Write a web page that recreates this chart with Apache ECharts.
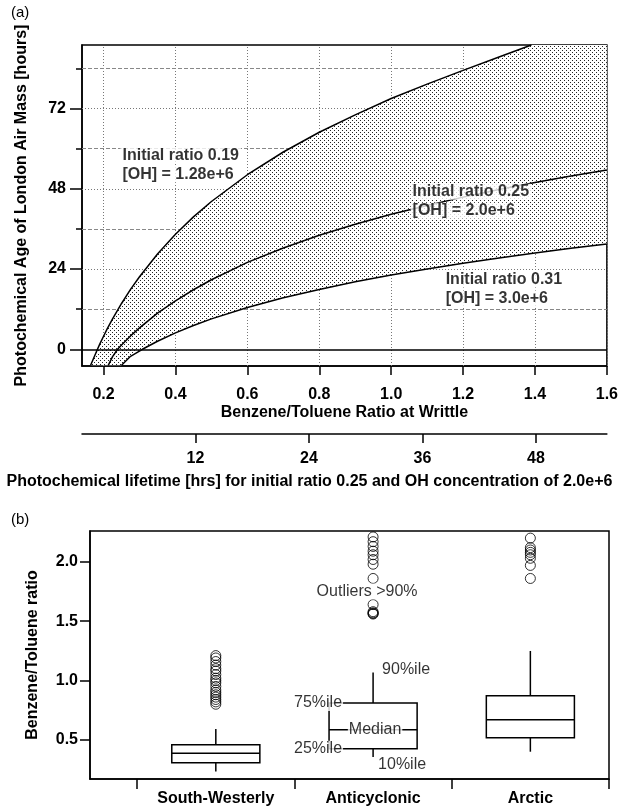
<!DOCTYPE html>
<html>
<head>
<meta charset="utf-8">
<script src="https://cdn.jsdelivr.net/npm/echarts@6/dist/echarts.min.js"></script>
<style>
html, body { margin: 0; padding: 0; background: #fff; }
#chart { width: 621px; height: 807px; }
</style>
</head>
<body>
<div id="chart"></div>
<script>
// (a) benzene/toluene ratio vs photochemical age
var ratioTicks = [0.2, 0.4, 0.6, 0.8, 1.0, 1.2, 1.4, 1.6];
var ageMajor = [0, 24, 48, 72];
var ageMinor = [12, 36, 60, 84];
var lifetimeTicks = [12, 24, 36, 48];

// initial ratio 0.19, [OH] = 1.28e+6
var x019 = [0.164, 0.175, 0.183, 0.19, 0.2, 0.21, 0.225, 0.25, 0.275, 0.3, 0.35, 0.4, 0.45, 0.5, 0.6, 0.7, 0.8, 0.9, 1.0, 1.1, 1.2, 1.3, 1.39];
var y019 = [-4.8, -2.0, 0, 1.7, 3.9, 6.1, 9.1, 13.7, 17.9, 21.7, 28.5, 34.4, 39.6, 44.2, 52.2, 59.0, 64.9, 70.1, 75.0, 79.3, 83.4, 87.4, 91.0];
// initial ratio 0.25, [OH] = 2.0e+6
var x025 = [0.213, 0.225, 0.239, 0.25, 0.275, 0.3, 0.35, 0.4, 0.45, 0.5, 0.6, 0.7, 0.8, 0.9, 1.0, 1.1, 1.2, 1.3, 1.4, 1.5, 1.6];
var y025 = [-4.8, -2.2, 0, 1.3, 4.0, 6.4, 10.8, 14.5, 17.8, 20.8, 26.0, 30.3, 34.1, 37.4, 40.4, 43.0, 45.5, 47.8, 49.9, 51.8, 53.6];
// initial ratio 0.31, [OH] = 3.0e+6
var x031 = [0.25, 0.275, 0.308, 0.35, 0.4, 0.45, 0.5, 0.6, 0.7, 0.8, 0.9, 1.0, 1.1, 1.2, 1.3, 1.4, 1.5, 1.6];
var y031 = [-4.8, -2.1, 0, 2.4, 4.9, 7.1, 9.1, 12.5, 15.4, 17.9, 20.2, 22.2, 24.0, 25.7, 27.3, 28.8, 30.2, 31.5];

// (b) box plots by synoptic regime: [10%, 25%, median, 75%, 90%]
var regimes = ['South-Westerly', 'Anticyclonic', 'Arctic'];
var boxSW = [0.234, 0.307, 0.388, 0.458, 0.592];
var boxAC = [0.355, 0.425, 0.586, 0.81, 1.067];
var boxAR = [0.40, 0.517, 0.67, 0.871, 1.249];
var outSW = [0.80, 0.82, 0.84, 0.86, 0.88, 0.90, 0.92, 0.95, 0.98, 1.00, 1.02, 1.05, 1.08, 1.10, 1.13, 1.16, 1.19, 1.21];
var outAC = [1.56, 1.565, 1.57, 1.58, 1.64, 1.86, 1.98, 2.02, 2.06, 2.09, 2.13, 2.17, 2.21];
var outAR = [1.86, 1.97, 2.03, 2.06, 2.08, 2.10, 2.12, 2.20];
var ratioTicksB = [0.5, 1.0, 1.5, 2.0];

var FONT = '"Liberation Sans", Arial, sans-serif';
var ageMin = -5, ageMax = 91, ratioMin = 0.14, ratioMax = 1.6;

function pairs(xs, ys) {
    var d = [];
    for (var i = 0; i < xs.length; i++) d.push([xs[i], ys[i]]);
    return d;
}

// stipple pattern for the band between the outer curves
var pat = document.createElement('canvas');
pat.width = 4; pat.height = 4;
var pctx = pat.getContext('2d');
pctx.fillStyle = '#fff';
pctx.fillRect(0, 0, 4, 4);
pctx.fillStyle = '#222';
pctx.fillRect(0, 0, 1, 1);
pctx.fillRect(2, 2, 1, 1);

function renderBand(params, api) {
    if (params.dataIndex !== 0) return;
    var pts = [];
    for (var i = 0; i < x019.length; i++) pts.push(api.coord([x019[i], y019[i]]));
    pts.push(api.coord([ratioMax, ageMax]));
    for (var j = x031.length - 1; j >= 0; j--) pts.push(api.coord([x031[j], y031[j]]));
    return {
        type: 'polygon',
        shape: { points: pts },
        style: { fill: { image: pat, repeat: 'repeat' }, stroke: null }
    };
}

var boxHalf = 0.28;
function renderBox(params, api) {
    var x = api.value(0);
    var lo = api.coord([x, api.value(1)]);
    var q1 = api.coord([x, api.value(2)]);
    var md = api.coord([x, api.value(3)]);
    var q3 = api.coord([x, api.value(4)]);
    var hi = api.coord([x, api.value(5)]);
    var w = api.size([boxHalf * 2, 0])[0];
    var st = { stroke: '#000', lineWidth: 1.5, fill: null };
    return {
        type: 'group',
        children: [
            { type: 'line', shape: { x1: hi[0], y1: hi[1], x2: q3[0], y2: q3[1] }, style: st },
            { type: 'line', shape: { x1: lo[0], y1: lo[1], x2: q1[0], y2: q1[1] }, style: st },
            { type: 'rect', shape: { x: q3[0] - w / 2, y: q3[1], width: w, height: q1[1] - q3[1] }, style: { stroke: '#000', lineWidth: 1.5, fill: '#fff' } },
            { type: 'line', shape: { x1: md[0] - w / 2, y1: md[1], x2: md[0] + w / 2, y2: md[1] }, style: st }
        ]
    };
}

var gridLines = [];
ratioTicks.forEach(function (v) {
    gridLines.push({ xAxis: v, lineStyle: { type: [1, 2], color: '#777', width: 1 } });
});
ageMajor.slice(1).forEach(function (v) {
    gridLines.push({ yAxis: v, lineStyle: { type: [1, 2], color: '#777', width: 1 } });
});
ageMinor.forEach(function (v) {
    gridLines.push({ yAxis: v, lineStyle: { type: [4, 2], color: '#888', width: 1 } });
});

var regimeCentres = regimes.map(function (r, i) { return i + 0.5; });
var regimeBounds = regimes.map(function (r, i) { return i; }).concat(regimes.length);

var boxData = [boxSW, boxAC, boxAR].map(function (b, i) { return [regimeCentres[i]].concat(b); });
var outData = [];
[outSW, outAC, outAR].forEach(function (arr, i) {
    arr.forEach(function (v) { outData.push([regimeCentres[i], v]); });
});

var noteStyle = { fontFamily: FONT, fontSize: 16, color: '#000', backgroundColor: '#fff', padding: [0, 1] };
function note(pos, text, align, offset) {
    return {
        value: pos,
        label: Object.assign({ show: true, position: 'inside', formatter: text, align: align, verticalAlign: 'middle', offset: offset }, noteStyle)
    };
}
var acX = regimeCentres[1];
var acNotes = [
    note([acX - boxHalf, boxAC[3]], '75%ile', 'right', [14, 0]),
    note([acX - boxHalf, boxAC[1]], '25%ile', 'right', [14, 0]),
    note([acX, boxAC[2]], 'Median', 'center', [2, 0]),
    note([acX, boxAC[4]], '90%ile', 'left', [8, -3]),
    note([acX, boxAC[0]], '10%ile', 'left', [4, 8]),
    note([acX, 1.75], 'Outliers >90%', 'center', [-6, 0])
];

function bandNote(pos, l1, l2) {
    return {
        value: pos,
        label: {
            show: true, position: 'inside', align: 'left', verticalAlign: 'middle',
            formatter: '{a|' + l1 + '}\n{a|' + l2 + '}',
            rich: { a: { fontFamily: FONT, fontSize: 16, fontWeight: 'bold', color: '#000', backgroundColor: '#fff', lineHeight: 19, padding: [0, 2] } }
        }
    };
}

var axisText = { fontFamily: FONT, fontSize: 16, fontWeight: 'bold', color: '#000' };
var blackLine = { color: '#000', width: 1.5 };

var option = {
    animation: false,
    backgroundColor: '#fff',
    title: [
        { text: '(a)', left: 6, top: 0, textStyle: { fontFamily: FONT, fontSize: 15, fontWeight: 'normal', color: '#000' } },
        { text: '(b)', left: 6, top: 507, textStyle: { fontFamily: FONT, fontSize: 15, fontWeight: 'normal', color: '#000' } }
    ],
    grid: [
        { left: 82, top: 45, width: 526, height: 321, show: true, borderColor: '#000', borderWidth: 1.5 },
        { left: 90, top: 531, width: 519, height: 249, show: true, borderColor: '#000', borderWidth: 1.5 }
    ],
    xAxis: [
        {
            gridIndex: 0, type: 'value', min: ratioMin, max: ratioMax, position: 'bottom',
            axisLine: { onZero: false, lineStyle: blackLine },
            axisTick: { customValues: ratioTicks, length: 9, lineStyle: blackLine },
            axisLabel: { customValues: ratioTicks, margin: 21, formatter: function (v) { return v.toFixed(1); }, fontFamily: FONT, fontSize: 16, fontWeight: 'bold', color: '#000' },
            splitLine: { show: false },
            name: 'Benzene/Toluene Ratio at Writtle', nameLocation: 'middle', nameGap: 39, nameTextStyle: axisText
        },
        {
            gridIndex: 0, type: 'value', position: 'bottom', offset: 68, min: 0, max: 55.5,
            axisLine: { onZero: false, lineStyle: blackLine },
            axisTick: { customValues: lifetimeTicks, length: 9, lineStyle: blackLine },
            axisLabel: { customValues: lifetimeTicks, margin: 17, fontFamily: FONT, fontSize: 16, fontWeight: 'bold', color: '#000' },
            splitLine: { show: false },
            name: 'Photochemical lifetime [hrs] for initial ratio 0.25 and OH concentration of 2.0e+6',
            nameLocation: 'middle', nameGap: 40,
            nameTextStyle: Object.assign({ padding: [0, 70, 0, 0] }, axisText)
        },
        {
            gridIndex: 1, type: 'value', min: -0.3, max: 3.0, position: 'bottom',
            axisLine: { onZero: false, lineStyle: blackLine },
            axisTick: { customValues: regimeBounds, length: 10, lineStyle: blackLine },
            axisLabel: { customValues: regimeCentres, margin: 12, formatter: function (v) { return regimes[Math.floor(v)]; }, fontFamily: FONT, fontSize: 16, fontWeight: 'bold', color: '#000' },
            splitLine: { show: false }
        }
    ],
    yAxis: [
        {
            gridIndex: 0, type: 'value', min: ageMin, max: ageMax, position: 'left',
            axisLine: { show: true, onZero: false, lineStyle: blackLine },
            axisTick: { customValues: ageMajor, length: 12, lineStyle: blackLine },
            axisLabel: { customValues: ageMajor, margin: 16, fontFamily: FONT, fontSize: 16, fontWeight: 'bold', color: '#000' },
            splitLine: { show: false },
            name: 'Photochemical Age of London Air Mass [hours]', nameLocation: 'middle', nameGap: 52, nameTextStyle: axisText
        },
        {
            gridIndex: 0, type: 'value', min: ageMin, max: ageMax, position: 'left',
            axisLine: { show: false, onZero: false },
            axisTick: { customValues: ageMinor, length: 6, lineStyle: blackLine },
            axisLabel: { show: false },
            splitLine: { show: false }
        },
        {
            gridIndex: 1, type: 'value', min: 0.17, max: 2.26, position: 'left',
            axisLine: { show: true, onZero: false, lineStyle: blackLine },
            axisTick: { customValues: ratioTicksB, length: 10, lineStyle: blackLine },
            axisLabel: { customValues: ratioTicksB, margin: 12, formatter: function (v) { return v.toFixed(1); }, fontFamily: FONT, fontSize: 16, fontWeight: 'bold', color: '#000' },
            splitLine: { show: false },
            name: 'Benzene/Toluene ratio', nameLocation: 'middle', nameGap: 49, nameTextStyle: axisText
        }
    ],
    series: [
        {
            type: 'custom', xAxisIndex: 0, yAxisIndex: 0, z: 3, clip: true,
            renderItem: renderBand,
            data: pairs(x019, y019),
            markLine: { silent: true, symbol: 'none', z: 1, label: { show: false }, data: gridLines }
        },
        {
            type: 'line', xAxisIndex: 0, yAxisIndex: 0, z: 4, symbol: 'none', clip: true,
            lineStyle: { color: '#000', width: 1.5 }, data: pairs(x019, y019),
            markLine: {
                silent: true, symbol: 'none', z: 6, label: { show: false },
                data: [{ yAxis: 0, lineStyle: { type: 'solid', color: '#000', width: 1.5 } }]
            }
        },
        {
            type: 'line', xAxisIndex: 0, yAxisIndex: 0, z: 4, symbol: 'none', clip: true,
            lineStyle: { color: '#000', width: 1.5 }, data: pairs(x025, y025)
        },
        {
            type: 'line', xAxisIndex: 0, yAxisIndex: 0, z: 4, symbol: 'none', clip: true,
            lineStyle: { color: '#000', width: 1.5 }, data: pairs(x031, y031)
        },
        {
            type: 'scatter', xAxisIndex: 0, yAxisIndex: 0, z: 7, symbolSize: 0,
            data: [
                bandNote([0.247, 55.2], 'Initial ratio 0.19', '[OH] = 1.28e+6'),
                bandNote([1.054, 44.3], 'Initial ratio 0.25', '[OH] = 2.0e+6'),
                bandNote([1.146, 18.0], 'Initial ratio 0.31', '[OH] = 3.0e+6')
            ]
        },
        {
            type: 'custom', xAxisIndex: 2, yAxisIndex: 2, z: 3,
            renderItem: renderBox,
            encode: { x: 0, y: [1, 2, 3, 4, 5] },
            data: boxData
        },
        {
            type: 'scatter', xAxisIndex: 2, yAxisIndex: 2, z: 4,
            symbol: 'circle', symbolSize: 10,
            itemStyle: { color: 'rgba(0,0,0,0)', borderColor: '#000', borderWidth: 1 },
            data: outData
        },
        {
            type: 'scatter', xAxisIndex: 2, yAxisIndex: 2, z: 6, symbolSize: 0,
            data: acNotes
        }
    ]
};

var chart = echarts.init(document.getElementById('chart'), null, { renderer: 'canvas' });
chart.setOption(option);
</script>
</body>
</html>
